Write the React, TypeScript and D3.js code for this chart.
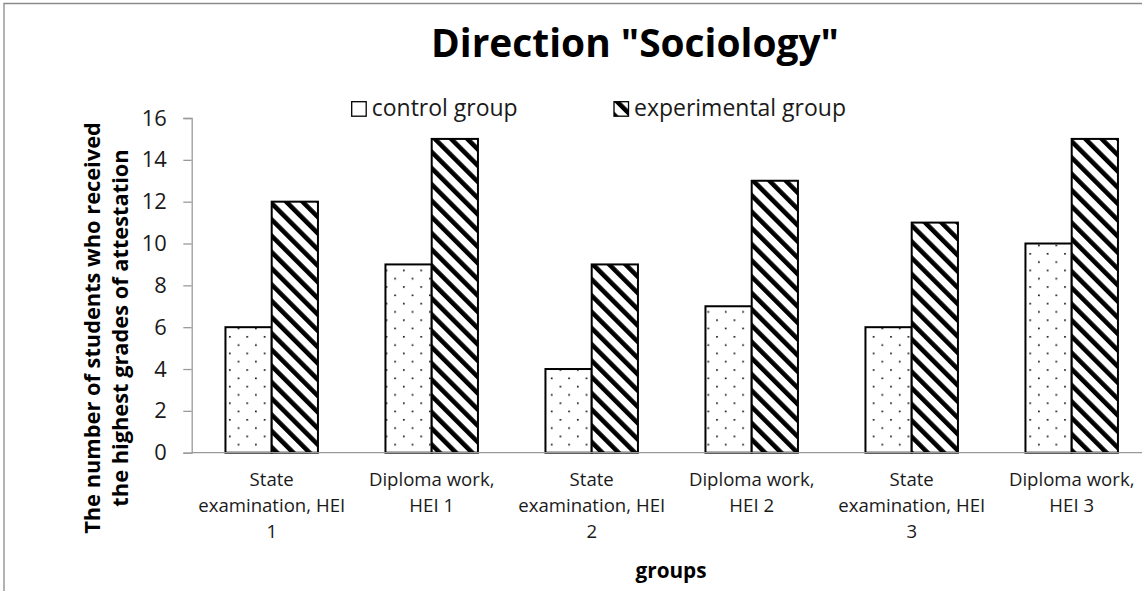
import React, { useEffect, useRef } from "react";
import * as d3 from "d3";

const categories = [
  ["State", "examination, HEI", "1"],
  ["Diploma work,", "HEI 1"],
  ["State", "examination, HEI", "2"],
  ["Diploma work,", "HEI 2"],
  ["State", "examination, HEI", "3"],
  ["Diploma work,", "HEI 3"],
];
const controlGroup = [6, 9, 4, 7, 6, 10];
const experimentalGroup = [12, 15, 9, 13, 11, 15];
const seriesNames = ["control group", "experimental group"];
const yTicks = [0, 2, 4, 6, 8, 10, 12, 14, 16];

const FONT = "'Open Sans', 'Noto Sans', sans-serif";

// scale the font size of a text so that it spans the width seen in the reference
function fitWidth(sel: any, target: number) {
  const node = sel.node() as SVGTextElement;
  const fs = parseFloat(sel.attr("font-size"));
  const w = node.getComputedTextLength();
  if (w > 0) sel.attr("font-size", (fs * target / w).toFixed(2));
  return parseFloat(sel.attr("font-size"));
}

export default function App() {
  const ref = useRef<SVGSVGElement>(null);

  useEffect(() => {
    document.body.style.margin = "0";
    const width = 1142;
    const height = 591;
    const svg = d3.select(ref.current);
    svg.selectAll("*").remove();

    // patterns
    const defs = svg.append("defs");
    const dots = defs.append("pattern")
      .attr("id", "dots")
      .attr("patternUnits", "userSpaceOnUse")
      .attr("width", 17.4)
      .attr("height", 16.6)
      .attr("x", 227)
      .attr("y", 2);
    dots.append("rect").attr("width", 17.4).attr("height", 16.6).attr("fill", "#fff");
    dots.append("rect").attr("x", 2).attr("y", 2).attr("width", 1.6).attr("height", 1.6).attr("fill", "#000");
    dots.append("rect").attr("x", 10.7).attr("y", 10.3).attr("width", 1.6).attr("height", 1.6).attr("fill", "#000");

    const hatch = defs.append("pattern")
      .attr("id", "hatch")
      .attr("patternUnits", "userSpaceOnUse")
      .attr("width", 11.5)
      .attr("height", 11.5)
      .attr("patternTransform", "rotate(-45)");
    hatch.append("rect").attr("width", 11.5).attr("height", 11.5).attr("fill", "#fff");
    hatch.append("rect").attr("x", 0).attr("width", 4.6).attr("height", 11.5).attr("fill", "#000");

    // chart border (cropped on right and bottom)
    svg.append("path")
      .attr("d", `M4,${height} L4,3.5 L${width},3.5`)
      .attr("fill", "none")
      .attr("stroke", "#8a8a8a")
      .attr("stroke-width", 1.3);

    const x0 = d3.scaleBand<number>()
      .domain(d3.range(categories.length))
      .range([191.7, 1151.7]);
    const x1 = d3.scaleBand<number>()
      .domain([0, 1])
      .range([0, x0.bandwidth()])
      .paddingOuter(0.73)
      .paddingInner(0);
    const y = d3.scaleLinear().domain([0, 16]).range([452.7, 118]);

    // y axis
    const yAxis = svg.append("g")
      .attr("transform", "translate(191.7,0)")
      .call(d3.axisLeft(y).tickValues(yTicks).tickSize(8.4).tickPadding(16.5).tickFormat(d3.format("d")));
    yAxis.select(".domain").attr("stroke", "#9a9a9a").attr("stroke-width", 1.3);
    yAxis.selectAll(".tick line").attr("stroke", "#9a9a9a").attr("stroke-width", 1.3);
    const tickTexts = yAxis.selectAll(".tick text")
      .attr("font-family", FONT)
      .attr("font-size", 20)
      .attr("fill", "#1a1a1a");
    const tickFs = fitWidth(yAxis.select(".tick:last-of-type text"), 25);
    tickTexts.attr("font-size", tickFs);

    // bars
    const series = [controlGroup, experimentalGroup];
    const fills = ["url(#dots)", "url(#hatch)"];
    series.forEach((vals, si) => {
      svg.append("g")
        .selectAll("rect")
        .data(vals)
        .join("rect")
        .attr("x", (_, i) => (x0(i) as number) + (x1(si) as number))
        .attr("y", (d) => y(d))
        .attr("width", x1.bandwidth())
        .attr("height", (d) => y(0) - y(d))
        .attr("fill", fills[si])
        .attr("stroke", "#000")
        .attr("stroke-width", 2);
    });

    // x axis
    svg.append("line")
      .attr("x1", 191.7)
      .attr("x2", width)
      .attr("y1", y(0))
      .attr("y2", y(0))
      .attr("stroke", "#9a9a9a")
      .attr("stroke-width", 1.3);

    const probe = svg.append("text")
      .attr("font-family", FONT)
      .attr("font-size", 18)
      .text("examination, HEI");
    const labelFs = fitWidth(probe, 147);
    probe.remove();

    const labels = svg.append("g")
      .selectAll("text")
      .data(categories)
      .join("text")
      .attr("x", (_, i) => (x0(i) as number) + x0.bandwidth() / 2)
      .attr("y", 485.6)
      .attr("text-anchor", "middle")
      .attr("font-family", FONT)
      .attr("font-size", labelFs)
      .attr("fill", "#1a1a1a");
    labels.each(function (lines) {
      const t = d3.select(this);
      const cx = t.attr("x");
      lines.forEach((ln, k) => {
        t.append("tspan").attr("x", cx).attr("dy", k === 0 ? 0 : 26.3).text(ln);
      });
    });

    // axis titles
    const xTitle = svg.append("text")
      .attr("x", 671)
      .attr("y", 578)
      .attr("text-anchor", "middle")
      .attr("font-family", FONT)
      .attr("font-weight", "bold")
      .attr("font-size", 20)
      .attr("fill", "#000")
      .text("groups");
    fitWidth(xTitle, 71);

    const yTitle = svg.append("text")
      .attr("transform", "translate(100,328) rotate(-90)")
      .attr("text-anchor", "middle")
      .attr("font-family", FONT)
      .attr("font-weight", "bold")
      .attr("font-size", 20)
      .attr("fill", "#000")
      .text("The number of students who received");
    const yFs = fitWidth(yTitle, 412);
    svg.append("text")
      .attr("transform", "translate(128,328) rotate(-90)")
      .attr("text-anchor", "middle")
      .attr("font-family", FONT)
      .attr("font-weight", "bold")
      .attr("font-size", yFs)
      .attr("fill", "#000")
      .text("the highest grades of attestation");

    // chart title
    const title = svg.append("text")
      .attr("x", 635)
      .attr("y", 57)
      .attr("text-anchor", "middle")
      .attr("font-family", FONT)
      .attr("font-weight", "bold")
      .attr("font-size", 32)
      .attr("fill", "#000")
      .text('Direction "Sociology"');
    fitWidth(title, 408);

    // legend
    const legendX = [351.7, 614];
    const legendFills = ["#fff", "url(#hatch)"];
    let legendFs = 0;
    seriesNames.forEach((name, i) => {
      const g = svg.append("g").attr("transform", `translate(${legendX[i]},101.7)`);
      g.append("rect")
        .attr("width", 14.5)
        .attr("height", 14.5)
        .attr("fill", legendFills[i])
        .attr("stroke", "#000")
        .attr("stroke-width", 1.3);
      const t = g.append("text")
        .attr("x", 20)
        .attr("y", 14.5)
        .attr("font-family", FONT)
        .attr("font-size", legendFs || 21)
        .attr("fill", "#1a1a1a")
        .text(name);
      if (i === 0) legendFs = fitWidth(t, 146);
    });
  }, []);

  return <svg ref={ref} width={1142} height={591} style={{ display: "block" }} />;
}
